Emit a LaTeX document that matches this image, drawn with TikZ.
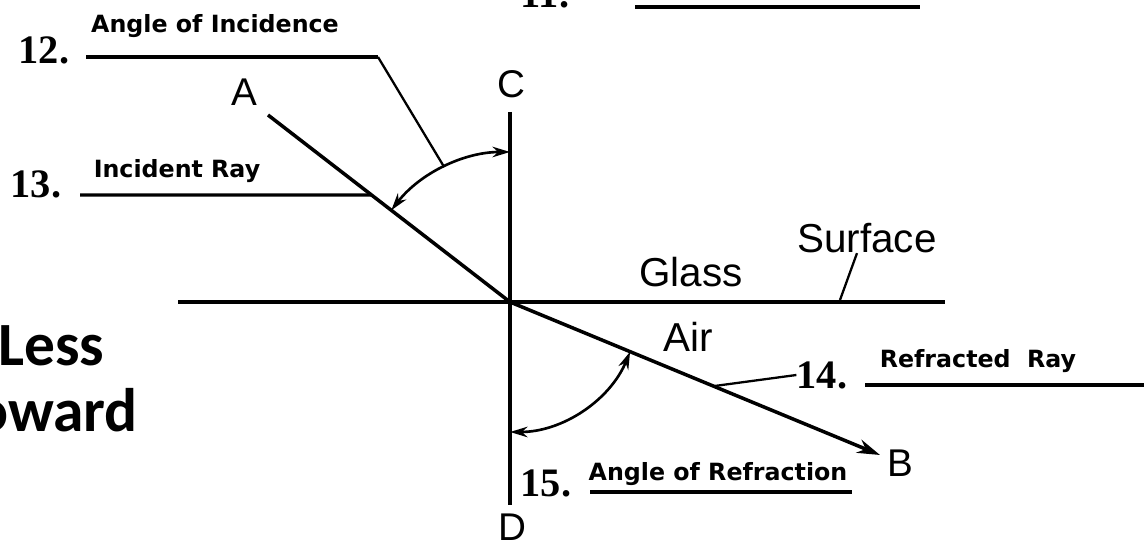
\documentclass[tikz,border=0pt]{standalone}
\usepackage{fontspec}
\setmainfont{Liberation Sans}
\newfontfamily\numfont{Liberation Serif}
\newfontfamily\tagfont{DejaVu Sans}
\newfontfamily\sidefont{Carlito}
\usetikzlibrary{arrows.meta, positioning, calc}

\begin{document}
\begin{tikzpicture}[x=0.02cm, y=0.02cm,
    ray/.style={line width=2pt},
    leader/.style={line width=1.3pt},
    blankline/.style={line width=1.8pt},
    twoway/.style={line width=1.5pt, {Stealth[length=10pt,width=6pt]}-{Stealth[length=10pt,width=6pt]}},
    letter/.style={font=\fontsize{22}{22}\selectfont, inner sep=0pt},
    medium/.style={font=\fontsize{23}{23}\selectfont, inner sep=0pt},
    num/.style={font=\numfont\bfseries\fontsize{23}{23}\selectfont, inner sep=0pt},
    answer/.style={font=\tagfont\bfseries\fontsize{13.5}{13.5}\selectfont, inner sep=0pt},
    side/.style={font=\sidefont\bfseries\fontsize{35}{35}\selectfont, inner sep=0pt}]
    \useasboundingbox (0,0) rectangle (1144,547);

    % Points
    \coordinate (O) at (510,245);
    \coordinate (Atop) at (268,432);
    \coordinate (Bend) at (880,92);
    \coordinate (Ctop) at (510,435);
    \coordinate (Dbot) at (510,42);
    \coordinate (surfL) at (178,245);
    \coordinate (surfR) at (945,245);

    % Normal and surface
    \draw[ray] (Ctop) -- (Dbot);
    \draw[ray] (surfL) -- (surfR);

    % Rays
    \draw[ray, -{Stealth[length=13pt,width=8pt]}] (Atop) -- (O) -- (Bend);

    % Angles
    \draw[twoway] ($(O)+(90:150)$) arc[start angle=90, end angle=142.3, radius=150];
    \draw[twoway] ($(O)+(270:130)$) arc[start angle=270, end angle=337.5, radius=130];

    % Letters
    \node[letter] (lblA) at (244,455) {A};
    \node[letter] (lblB) at (900,84) {B};
    \node[letter] (lblC) at (511,463) {C};
    \node[letter] (lblD) at (512,20) {D};
    \node[medium] (glass) at (691,275) {Glass};
    \node[medium] (surface) at (867,309) {Surface};
    \node[medium] (air) at (688,210) {Air};
    \coordinate (surfTick) at (840,247);
    \draw[leader] (surfTick) -- (surface.south -| 857,0);

    % 11
    \node[num, anchor=base] (n11) at (545,539) {11.};
    \coordinate (u11L) at (635,540);
    \coordinate (u11R) at (920,540);
    \draw[blankline] (u11L) -- (u11R);

    % 12
    \node[num] (n12) at (44,497) {12.};
    \node[answer] (t12) at (215,521) {Angle of Incidence};
    \coordinate (k12) at ($(O)+(116:150)$);
    \coordinate (bend12) at (378,490);
    \coordinate (u12L) at (86,490);
    \draw[leader] (k12) -- (bend12);
    \draw[blankline] (bend12) -- (u12L);

    % 13
    \node[num] (n13) at (36,363) {13.};
    \node[answer] (t13) at (177,376) {Incident Ray};
    \coordinate (k13) at ($(O)!0.572!(Atop)$);
    \coordinate (u13L) at (80,352);
    \draw[blankline] (u13L) -- (k13);

    % 14
    \node[num] (n14) at (822,172) {14.};
    \node[answer] (t14) at (978,186) {Refracted\ \ Ray};
    \coordinate (k14) at ($(O)!0.55!(Bend)$);
    \draw[leader] (k14) -- (n14.west);
    \coordinate (u14L) at (865,162);
    \coordinate (u14R) at (1144,162);
    \draw[blankline] (u14L) -- (u14R);

    % 15
    \node[num] (n15) at (546,64) {15.};
    \node[answer] (t15) at (718,73) {Angle of Refraction};
    \coordinate (u15L) at (590,55);
    \coordinate (u15R) at (852,55);
    \draw[blankline] (u15L) -- (u15R);

    % Side text, cut at the edge
    \node[side, anchor=base west] (less) at (-2,181) {Less};
    \node[side, anchor=base east] (toward) at (138,115) {oward};
\end{tikzpicture}
\end{document}
